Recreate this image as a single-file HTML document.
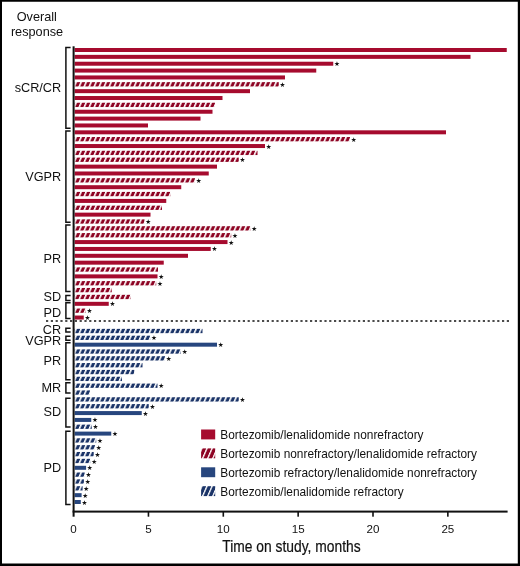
<!DOCTYPE html>
<html lang="en"><head><meta charset="utf-8"><title>Time on study by overall response</title>
<style>html,body{margin:0;padding:0;background:#fff}svg{display:block}text{font-family:"Liberation Sans",Arial,Helvetica,sans-serif;fill:#111}.st{font-family:"DejaVu Sans","Liberation Sans",sans-serif;font-size:6.6px;fill:#111}</style></head><body>
<svg width="520" height="566" viewBox="0 0 520 566">
<defs>
<pattern id="hr" patternUnits="userSpaceOnUse" width="5" height="20" patternTransform="translate(-1.2 4.3) skewX(-23.4)"><rect x="0" y="-10" width="5" height="40" fill="#8E0424"/><rect x="0" y="-10" width="1.7" height="40" fill="#fff"/></pattern>
<pattern id="hrL" patternUnits="userSpaceOnUse" width="5.1" height="30" patternTransform="translate(0.8 9.9) skewX(-23.4)"><rect x="0" y="-10" width="5.1" height="50" fill="#8E0424"/><rect x="0" y="-10" width="1.45" height="50" fill="#fff"/></pattern>
<pattern id="hb" patternUnits="userSpaceOnUse" width="5" height="20" patternTransform="translate(-1.2 4.3) skewX(-23.4)"><rect x="0" y="-10" width="5" height="40" fill="#1B3468"/><rect x="0" y="-10" width="1.7" height="40" fill="#fff"/></pattern>
<pattern id="hbL" patternUnits="userSpaceOnUse" width="5.1" height="30" patternTransform="translate(0.8 9.9) skewX(-23.4)"><rect x="0" y="-10" width="5.1" height="50" fill="#1B3468"/><rect x="0" y="-10" width="1.45" height="50" fill="#fff"/></pattern>
</defs>
<rect x="0" y="0" width="520" height="566" fill="#fff"/>
<rect x="74.6" y="48.00" width="432.15" height="4.0" fill="#A60B2E"/>
<rect x="74.6" y="54.86" width="395.90" height="4.0" fill="#A60B2E"/>
<rect x="74.6" y="61.72" width="258.65" height="4.0" fill="#A60B2E"/>
<text class="st" x="336.95" y="66.27" text-anchor="middle">★</text>
<rect x="74.6" y="68.58" width="241.65" height="4.0" fill="#A60B2E"/>
<rect x="74.6" y="75.44" width="210.40" height="4.0" fill="#A60B2E"/>
<rect transform="translate(74.6 82.15)" x="0" y="0" width="204.15" height="4.3" fill="url(#hr)"/>
<text class="st" x="282.45" y="86.85" text-anchor="middle">★</text>
<rect x="74.6" y="89.16" width="175.40" height="4.0" fill="#A60B2E"/>
<rect x="74.6" y="96.02" width="147.90" height="4.0" fill="#A60B2E"/>
<rect transform="translate(74.6 102.73)" x="0" y="0" width="140.40" height="4.3" fill="url(#hr)"/>
<rect x="74.6" y="109.74" width="137.90" height="4.0" fill="#A60B2E"/>
<rect x="74.6" y="116.60" width="125.90" height="4.0" fill="#A60B2E"/>
<rect x="74.6" y="123.46" width="73.40" height="4.0" fill="#A60B2E"/>
<rect x="74.6" y="130.32" width="371.40" height="4.0" fill="#A60B2E"/>
<rect transform="translate(74.6 137.03)" x="0" y="0" width="275.40" height="4.3" fill="url(#hr)"/>
<text class="st" x="353.70" y="141.73" text-anchor="middle">★</text>
<rect x="74.6" y="144.04" width="190.40" height="4.0" fill="#A60B2E"/>
<text class="st" x="268.70" y="148.59" text-anchor="middle">★</text>
<rect transform="translate(74.6 150.75)" x="0" y="0" width="182.90" height="4.3" fill="url(#hr)"/>
<rect transform="translate(74.6 157.61)" x="0" y="0" width="164.15" height="4.3" fill="url(#hr)"/>
<text class="st" x="242.45" y="162.31" text-anchor="middle">★</text>
<rect x="74.6" y="164.62" width="142.40" height="4.0" fill="#A60B2E"/>
<rect x="74.6" y="171.48" width="134.15" height="4.0" fill="#A60B2E"/>
<rect transform="translate(74.6 178.19)" x="0" y="0" width="120.40" height="4.3" fill="url(#hr)"/>
<text class="st" x="198.70" y="182.89" text-anchor="middle">★</text>
<rect x="74.6" y="185.20" width="106.65" height="4.0" fill="#A60B2E"/>
<rect transform="translate(74.6 191.91)" x="0" y="0" width="95.90" height="4.3" fill="url(#hr)"/>
<rect x="74.6" y="198.92" width="91.65" height="4.0" fill="#A60B2E"/>
<rect transform="translate(74.6 205.63)" x="0" y="0" width="87.40" height="4.3" fill="url(#hr)"/>
<rect x="74.6" y="212.64" width="75.90" height="4.0" fill="#A60B2E"/>
<rect transform="translate(74.6 219.35)" x="0" y="0" width="69.90" height="4.3" fill="url(#hr)"/>
<text class="st" x="148.20" y="224.05" text-anchor="middle">★</text>
<rect transform="translate(74.6 226.21)" x="0" y="0" width="175.90" height="4.3" fill="url(#hr)"/>
<text class="st" x="254.20" y="230.91" text-anchor="middle">★</text>
<rect transform="translate(74.6 233.07)" x="0" y="0" width="156.65" height="4.3" fill="url(#hr)"/>
<text class="st" x="234.95" y="237.77" text-anchor="middle">★</text>
<rect x="74.6" y="240.08" width="152.90" height="4.0" fill="#A60B2E"/>
<text class="st" x="231.20" y="244.63" text-anchor="middle">★</text>
<rect x="74.6" y="246.94" width="136.15" height="4.0" fill="#A60B2E"/>
<text class="st" x="214.45" y="251.49" text-anchor="middle">★</text>
<rect x="74.6" y="253.80" width="113.40" height="4.0" fill="#A60B2E"/>
<rect x="74.6" y="260.66" width="89.15" height="4.0" fill="#A60B2E"/>
<rect transform="translate(74.6 267.37)" x="0" y="0" width="83.40" height="4.3" fill="url(#hr)"/>
<rect x="74.6" y="274.38" width="82.90" height="4.0" fill="#A60B2E"/>
<text class="st" x="161.20" y="278.93" text-anchor="middle">★</text>
<rect transform="translate(74.6 281.09)" x="0" y="0" width="81.65" height="4.3" fill="url(#hr)"/>
<text class="st" x="159.95" y="285.79" text-anchor="middle">★</text>
<rect transform="translate(74.6 287.95)" x="0" y="0" width="37.15" height="4.3" fill="url(#hr)"/>
<rect transform="translate(74.6 294.81)" x="0" y="0" width="56.15" height="4.3" fill="url(#hr)"/>
<rect x="74.6" y="301.82" width="34.15" height="4.0" fill="#A60B2E"/>
<text class="st" x="112.45" y="306.37" text-anchor="middle">★</text>
<rect transform="translate(74.6 308.53)" x="0" y="0" width="11.15" height="4.3" fill="url(#hr)"/>
<text class="st" x="89.45" y="313.23" text-anchor="middle">★</text>
<rect x="74.6" y="315.54" width="9.15" height="4.0" fill="#A60B2E"/>
<text class="st" x="87.45" y="320.09" text-anchor="middle">★</text>
<rect transform="translate(74.6 328.85)" x="0" y="0" width="127.90" height="4.3" fill="url(#hb)"/>
<rect transform="translate(74.6 335.69)" x="0" y="0" width="75.65" height="4.3" fill="url(#hb)"/>
<text class="st" x="153.95" y="340.39" text-anchor="middle">★</text>
<rect x="74.6" y="342.68" width="142.40" height="4.0" fill="#27467E"/>
<text class="st" x="220.70" y="347.23" text-anchor="middle">★</text>
<rect transform="translate(74.6 349.37)" x="0" y="0" width="106.40" height="4.3" fill="url(#hb)"/>
<text class="st" x="184.70" y="354.07" text-anchor="middle">★</text>
<rect transform="translate(74.6 356.21)" x="0" y="0" width="90.40" height="4.3" fill="url(#hb)"/>
<text class="st" x="168.70" y="360.91" text-anchor="middle">★</text>
<rect transform="translate(74.6 363.05)" x="0" y="0" width="67.90" height="4.3" fill="url(#hb)"/>
<rect transform="translate(74.6 369.89)" x="0" y="0" width="59.65" height="4.3" fill="url(#hb)"/>
<rect transform="translate(74.6 376.73)" x="0" y="0" width="47.40" height="4.3" fill="url(#hb)"/>
<rect transform="translate(74.6 383.57)" x="0" y="0" width="82.90" height="4.3" fill="url(#hb)"/>
<text class="st" x="161.20" y="388.27" text-anchor="middle">★</text>
<rect transform="translate(74.6 390.41)" x="0" y="0" width="15.40" height="4.3" fill="url(#hb)"/>
<rect transform="translate(74.6 397.25)" x="0" y="0" width="164.15" height="4.3" fill="url(#hb)"/>
<text class="st" x="242.45" y="401.95" text-anchor="middle">★</text>
<rect transform="translate(74.6 404.09)" x="0" y="0" width="74.15" height="4.3" fill="url(#hb)"/>
<text class="st" x="152.45" y="408.79" text-anchor="middle">★</text>
<rect x="74.6" y="411.08" width="67.15" height="4.0" fill="#27467E"/>
<text class="st" x="145.45" y="415.63" text-anchor="middle">★</text>
<rect x="74.6" y="417.92" width="16.65" height="4.0" fill="#27467E"/>
<text class="st" x="94.95" y="422.47" text-anchor="middle">★</text>
<rect transform="translate(74.6 424.61)" x="0" y="0" width="17.15" height="4.3" fill="url(#hb)"/>
<text class="st" x="95.45" y="429.31" text-anchor="middle">★</text>
<rect x="74.6" y="431.60" width="36.65" height="4.0" fill="#27467E"/>
<text class="st" x="114.95" y="436.15" text-anchor="middle">★</text>
<rect transform="translate(74.6 438.29)" x="0" y="0" width="21.65" height="4.3" fill="url(#hb)"/>
<text class="st" x="99.95" y="442.99" text-anchor="middle">★</text>
<rect transform="translate(74.6 445.13)" x="0" y="0" width="20.40" height="4.3" fill="url(#hb)"/>
<text class="st" x="98.70" y="449.83" text-anchor="middle">★</text>
<rect transform="translate(74.6 451.97)" x="0" y="0" width="19.10" height="4.3" fill="url(#hb)"/>
<text class="st" x="97.40" y="456.67" text-anchor="middle">★</text>
<rect transform="translate(74.6 458.81)" x="0" y="0" width="15.80" height="4.3" fill="url(#hb)"/>
<text class="st" x="94.10" y="463.51" text-anchor="middle">★</text>
<rect x="74.6" y="465.80" width="11.50" height="4.0" fill="#27467E"/>
<text class="st" x="89.80" y="470.35" text-anchor="middle">★</text>
<rect transform="translate(74.6 472.49)" x="0" y="0" width="10.10" height="4.3" fill="url(#hb)"/>
<text class="st" x="88.40" y="477.19" text-anchor="middle">★</text>
<rect transform="translate(74.6 479.33)" x="0" y="0" width="9.30" height="4.3" fill="url(#hb)"/>
<text class="st" x="87.60" y="484.03" text-anchor="middle">★</text>
<rect transform="translate(74.6 486.17)" x="0" y="0" width="8.00" height="4.3" fill="url(#hb)"/>
<text class="st" x="86.30" y="490.87" text-anchor="middle">★</text>
<rect x="74.6" y="493.16" width="7.00" height="4.0" fill="#27467E"/>
<text class="st" x="85.30" y="497.71" text-anchor="middle">★</text>
<rect x="74.6" y="500.00" width="6.20" height="4.0" fill="#27467E"/>
<text class="st" x="84.50" y="504.55" text-anchor="middle">★</text>
<line x1="46" y1="320.9" x2="509" y2="320.9" stroke="#111" stroke-width="1.5" stroke-dasharray="2.2 2.6"/>
<rect x="72.6" y="46.3" width="2" height="470.4" fill="#111"/>
<rect x="72.6" y="510.6" width="435" height="2" fill="#111"/>
<rect x="147.65" y="511" width="1.6" height="5.7" fill="#111"/>
<rect x="222.50" y="511" width="1.6" height="5.7" fill="#111"/>
<rect x="297.35" y="511" width="1.6" height="5.7" fill="#111"/>
<rect x="372.20" y="511" width="1.6" height="5.7" fill="#111"/>
<rect x="447.05" y="511" width="1.6" height="5.7" fill="#111"/>
<text x="73.60" y="532.9" font-size="11.6" text-anchor="middle">0</text>
<text x="148.45" y="532.9" font-size="11.6" text-anchor="middle">5</text>
<text x="223.30" y="532.9" font-size="11.6" text-anchor="middle">10</text>
<text x="298.15" y="532.9" font-size="11.6" text-anchor="middle">15</text>
<text x="373.00" y="532.9" font-size="11.6" text-anchor="middle">20</text>
<text x="447.85" y="532.9" font-size="11.6" text-anchor="middle">25</text>
<path d="M70.6 47.50H65.9V128.20H70.6" fill="none" stroke="#111" stroke-width="1.5"/>
<path d="M70.6 131.00H65.9V222.30H70.6" fill="none" stroke="#111" stroke-width="1.5"/>
<path d="M70.6 225.00H65.9V291.50H70.6" fill="none" stroke="#111" stroke-width="1.5"/>
<path d="M70.6 295.50H65.9V300.50H70.6" fill="none" stroke="#111" stroke-width="1.5"/>
<path d="M70.6 302.80H65.9V318.60H70.6" fill="none" stroke="#111" stroke-width="1.5"/>
<path d="M70.6 328.30H65.9V332.00H70.6" fill="none" stroke="#111" stroke-width="1.5"/>
<path d="M70.6 336.30H65.9V340.30H70.6" fill="none" stroke="#111" stroke-width="1.5"/>
<path d="M70.6 342.80H65.9V379.80H70.6" fill="none" stroke="#111" stroke-width="1.5"/>
<path d="M70.6 382.80H65.9V393.00H70.6" fill="none" stroke="#111" stroke-width="1.5"/>
<path d="M70.6 398.30H65.9V427.00H70.6" fill="none" stroke="#111" stroke-width="1.5"/>
<path d="M70.6 431.30H65.9V504.60H70.6" fill="none" stroke="#111" stroke-width="1.5"/>
<text x="61.2" y="92.1" font-size="12.7" text-anchor="end">sCR/CR</text>
<text x="61.2" y="180.7" font-size="12.7" text-anchor="end">VGPR</text>
<text x="61.2" y="262.6" font-size="12.7" text-anchor="end">PR</text>
<text x="61.2" y="301.2" font-size="12.7" text-anchor="end">SD</text>
<text x="61.2" y="316.5" font-size="12.7" text-anchor="end">PD</text>
<text x="61.2" y="333.9" font-size="12.7" text-anchor="end">CR</text>
<text x="61.2" y="344.5" font-size="12.7" text-anchor="end">VGPR</text>
<text x="61.2" y="364.5" font-size="12.7" text-anchor="end">PR</text>
<text x="61.2" y="392.2" font-size="12.7" text-anchor="end">MR</text>
<text x="61.2" y="416.2" font-size="12.7" text-anchor="end">SD</text>
<text x="61.2" y="472.3" font-size="12.7" text-anchor="end">PD</text>
<text x="36.8" y="20.8" font-size="12.7" text-anchor="middle">Overall</text>
<text x="37" y="36" font-size="12.7" text-anchor="middle">response</text>
<rect transform="translate(201.1 429.50)" x="0" y="0" width="14.1" height="9.9" fill="#A60B2E"/>
<text font-size="12.2" transform="translate(220.3 438.80) scale(0.974 1)">Bortezomib/lenalidomide nonrefractory</text>
<rect transform="translate(201.1 448.40)" x="0" y="0" width="14.1" height="9.9" fill="url(#hrL)"/>
<text font-size="12.2" transform="translate(220.3 457.80) scale(0.974 1)">Bortezomib nonrefractory/lenalidomide refractory</text>
<rect transform="translate(201.1 467.30)" x="0" y="0" width="14.1" height="9.9" fill="#27467E"/>
<text font-size="12.2" transform="translate(220.3 476.80) scale(0.974 1)">Bortezomib refractory/lenalidomide nonrefractory</text>
<rect transform="translate(201.1 486.20)" x="0" y="0" width="14.1" height="9.9" fill="url(#hbL)"/>
<text font-size="12.2" transform="translate(220.3 495.80) scale(0.974 1)">Bortezomib/lenalidomide refractory</text>
<text transform="translate(222.3 551.8) scale(0.87 1)" font-size="15.9" stroke="#111" stroke-width="0.2">Time on study, months</text>
<path d="M0 0H520V566H0Z M2 1.8H517.8V563.4H2Z" fill="#000" fill-rule="evenodd"/>
</svg></body></html>
